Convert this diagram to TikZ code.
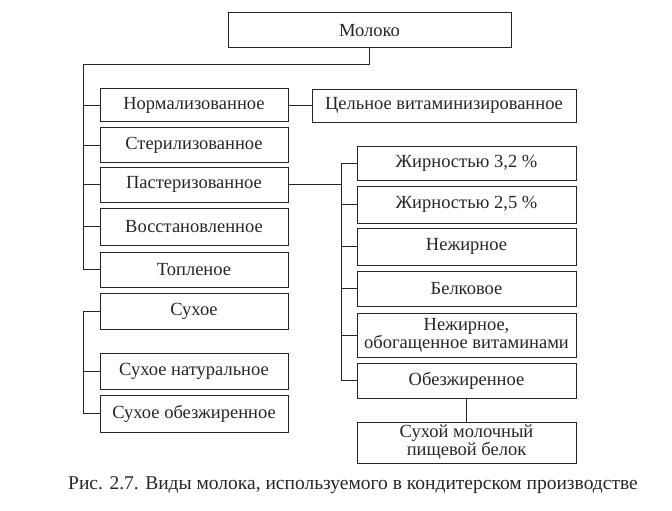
\documentclass[tikz,border=0pt]{standalone}
\usepackage{fontspec}
\setmainfont{Liberation Serif}
\usetikzlibrary{positioning}
\begin{document}
\begin{tikzpicture}[x=1pt, y=-1pt, line width=1pt, draw=black!85,
    box/.style={draw, align=center, inner sep=0pt, minimum height=35pt, text=black!85,
      font=\fontsize{18.5}{18}\selectfont},
    lbox/.style={box, minimum width=188pt},
    rbox/.style={box, minimum width=219pt}]
  \useasboundingbox (0,0) rectangle (672,511);
  \node[box, minimum width=283pt] (moloko) at (369.5,30.5) {Молоко};
  % left column
  \node[lbox, minimum height=33pt] (norm) at (194,105) {Нормализованное};
  \node[lbox] (steril) at (194,145) {Стерилизованное};
  \node[lbox] (paster) at (194,184.5) {Пастеризованное};
  \node[lbox, minimum height=37pt] (vosst) at (194,226.5) {Восстановленное};
  \node[lbox] (toplen) at (194,269.5) {Топленое};
  \node[lbox, minimum height=36pt] (sukh) at (194,311) {Сухое};
  \node[lbox, minimum height=36pt] (sukhnat) at (194,371) {Сухое натуральное};
  \node[lbox, minimum height=37pt] (sukhobez) at (194,413.5) {Сухое обезжиренное};
  \node[box, minimum width=264pt, minimum height=33pt] (tselnoe) at (444,105.5) {Цельное витаминизированное};
  % right column
  \node[rbox, minimum height=34pt] (fat32) at (466.5,163) {Жирностью 3,2 \%};
  \node[rbox, minimum height=37pt] (fat25) at (466.5,204.5) {Жирностью 2,5 \%};
  \node[rbox, minimum height=37pt] (nezhir) at (466.5,246.5) {Нежирное};
  \node[rbox] (belk) at (466.5,288.5) {Белковое};
  \node[rbox, minimum height=44pt] (nezhvit) at (466.5,335) {Нежирное,\\обогащенное витаминами};
  \node[rbox] (obezh) at (466.5,380.5) {Обезжиренное};
  \node[rbox, minimum height=41pt] (sukhbel) at (466.5,442.5) {Сухой молочный\\пищевой белок};
  % connectors
  \coordinate (lbus) at (83,65);
  \coordinate (sbus) at (83,311);
  \coordinate (rbus) at (341,163);
  \draw (moloko.south) |- (lbus) -- (lbus |- toplen.west);
  \foreach \n in {norm, steril, paster, vosst, toplen}
    \draw (lbus |- \n.west) -- (\n.west);
  \draw (sukh.west) -- (sbus) -- (sbus |- sukhobez.west);
  \foreach \n in {sukhnat, sukhobez}
    \draw (sbus |- \n.west) -- (\n.west);
  \draw (norm.east) -- (norm.east -| tselnoe.west);
  \draw (paster.east) -- (rbus |- paster.east);
  \draw (rbus) -- (rbus |- obezh.west);
  \foreach \n in {fat32, fat25, nezhir, belk, nezhvit, obezh}
    \draw (rbus |- \n.west) -- (\n.west);
  \draw (obezh.south) -- (sukhbel.north);
  \node[text=black!85, font=\fontsize{19.5}{20}\selectfont] (caption) at (353,485)
    {Рис. 2.7. Виды молока, используемого в кондитерском производстве};
\end{tikzpicture}
\end{document}
